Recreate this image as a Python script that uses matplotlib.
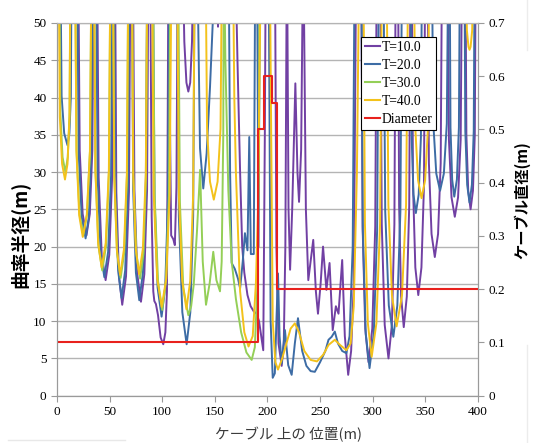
import matplotlib
matplotlib.use("Agg")
import matplotlib.pyplot as plt
from matplotlib.lines import Line2D

# ---------------- data ----------------
# y values of 62 denote points above the visible 50 m limit (curve clipped)
t10_x = [0, 11.5, 13, 14.5,
         20, 21.6, 24.4, 28, 31.2, 33.6, 35,
         38, 39.6, 42.5, 46.2, 49.7, 52.4, 54,
         55, 56.4, 58.9, 62, 65.6, 68.4, 70,
         72, 73.6, 76.3, 79.8, 83, 85.6, 87,
         88.5, 90, 91.5, 92.5, 94, 96, 98.5, 101, 103, 104.5, 106,
         107.5, 108.5, 110.5, 112, 113.5, 115,
         119, 121, 123, 124.8, 126.6, 128.3, 130,
         151.5, 153, 154.5,
         169, 171.5, 174, 176, 178, 181, 184, 187, 189.7, 192, 194, 196, 197.5, 198.5,
         207, 208.5, 210.5, 213.5, 215.5, 217, 218.5,
         220, 221.5, 223.5, 226.5, 228.5, 230, 232, 234,
         236.5, 238.8, 241, 243.5, 246, 248, 250.5, 252.8, 256, 259, 262, 265, 267.5,
         271, 273.5, 276.7, 279.5, 282, 284.5,
         289, 290.4, 292.9, 296, 299.6, 302.4, 304,
         307, 308.6, 311.4, 315, 318.2, 320.6, 322,
         324, 325.1, 327, 329.5, 332.4, 334.7, 336,
         337, 338.3, 340.5, 343.3, 346.3, 348.7, 350,
         352, 353.4, 355.9, 359, 362.1, 364.6, 366,
         371, 372.4, 374.9, 378, 381.1, 383.6, 385,
         388, 389, 390.75, 393, 395.25, 397, 398, 400]
t10_y = [62, 62, 46.5, 62,
         62, 32.9, 24.4, 21.5, 24.4, 32.9, 62,
         62, 29.3, 18.9, 15.5, 18.9, 29.3, 62,
         62, 27.3, 16, 12.2, 16, 27.3, 62,
         62, 27.6, 16.3, 12.6, 16.3, 27.6, 62,
         62, 24, 14, 12.7, 12.3, 10.8, 7.8, 6.9, 8.5, 14, 62,
         35, 21.5, 21, 20.2, 28, 62,
         62, 47.5, 42, 40.8, 42, 47.5, 62,
         62, 49.5, 62,
         62, 45, 30, 20, 16.5, 13.5, 12, 11.3, 11, 10, 8, 6.1, 35, 62,
         62, 20, 7, 4, 7, 20, 62,
         25, 16.9, 25, 41.9, 30, 26, 33, 62,
         25, 15.5, 18, 20.9, 14, 11, 15, 20, 14.2, 17.8, 8.8, 12, 11,
         18.2, 8, 2.8, 6, 15, 62,
         62, 22.7, 9, 4.5, 9, 22.7, 62,
         62, 23, 9.5, 5, 9.5, 23, 62,
         62, 25.5, 13.3, 9.2, 13.3, 25.5, 62,
         62, 28.1, 17.2, 13.5, 17.2, 28.1, 62,
         62, 31.2, 21.7, 18.6, 21.7, 31.2, 62,
         62, 34.4, 26.6, 24, 26.6, 34.4, 62,
         62, 35, 27.5, 25, 27.5, 35, 62, 62]

t20_x = [0, 3, 4.4, 6.85, 10, 11.8, 13.2, 14,
         19, 20.6, 23.5, 27.2, 30.3, 32.6, 34,
         37, 38.6, 41.4, 45, 48.6, 51.4, 53,
         54, 55.5, 58.1, 61.4, 64.8, 67.5, 69,
         71, 72.4, 75, 78.2, 81.7, 84.4, 86,
         91, 92.7, 95.6, 99.4, 102.8, 105.5, 107,
         114, 115.8, 119.1, 123.2, 126.7, 129.4, 131,
         133, 135.9, 139, 142.2, 145.4, 148, 150,
         163, 164.5, 166, 169, 172, 174, 176.5, 178.6, 181, 182.7, 184.2, 187, 188.5,
         190, 191.5, 193, 199.5,
         201, 203, 205, 207, 208.5, 210, 211.5, 213.5, 216.6, 219.7, 223, 226, 229,
         233, 237, 241, 245, 250, 255, 258, 261, 264, 267, 271, 275, 278, 281, 283,
         289, 290.6, 293.4, 297, 301, 304.2, 306,
         310, 311.9, 315.3, 319.6, 323.4, 326.3, 328,
         336, 337, 338.75, 341, 343.7, 345.8, 347,
         356, 357.6, 360.4, 364, 367.6, 370.4, 372,
         373, 373.9, 375.5, 377.5, 380, 381.9, 383,
         387, 388, 389.75, 392, 394.25, 396, 397, 400]
t20_y = [62, 62, 40.2, 35.2, 33.6, 35.2, 40.2, 62,
         62, 32.7, 24, 21.1, 24, 32.7, 62,
         62, 29.5, 19.3, 15.9, 19.3, 29.5, 62,
         62, 27.9, 16.8, 13.1, 16.8, 27.9, 62,
         62, 27.7, 16.5, 12.8, 16.5, 27.7, 62,
         62, 26.4, 14.5, 10.6, 14.5, 26.4, 62,
         62, 24.1, 11.2, 6.9, 11.2, 24.1, 62,
         62, 33.2, 27.8, 32.5, 41.4, 50, 62,
         62, 30, 17.8, 17, 15.7, 14.4, 18, 21.8, 19.5, 34.7, 19, 19, 62,
         62, 20, 62, 62,
         62, 10, 2.4, 3, 10, 16.4, 8, 4.3, 8.8, 4.1, 2.8, 7, 10.4,
         6, 4, 3.3, 3.2, 4.5, 6, 7.5, 7.9, 8.6, 7, 6, 5.7, 8, 20, 62,
         62, 22.2, 8.3, 3.7, 8.3, 22.2, 62,
         62, 24.7, 12.1, 7.9, 12.1, 24.7, 62,
         62, 34.7, 27, 24.5, 27, 34.7, 62,
         62, 36.5, 29.8, 27.5, 29.8, 36.5, 62,
         62, 36, 29, 26.7, 29, 36, 62,
         62, 35.5, 28.3, 25.9, 28.3, 35.5, 62, 62]

t30_x = [0, 2, 3.2, 5.3, 8, 10.25, 12, 13,
         17, 18.6, 21.4, 25, 28.6, 31.4, 33,
         35, 36.6, 39.4, 43, 46.6, 49.4, 51,
         53, 54.5, 57.1, 60.5, 63.9, 66.5, 68,
         71, 72.6, 75.4, 79, 82.2, 84.6, 86,
         91, 92.8, 96, 100, 103.6, 106.4, 108,
         115, 116.8, 120, 124.8, 127.5, 130, 133, 136, 138.5, 141.6, 145, 148.5, 151.5, 154.9,
         156.5, 158, 158.5, 160, 162.8, 166, 170, 175, 180, 185, 188, 190.5, 192, 192.5, 200]
t30_y = [62, 62, 38, 32, 30, 32, 38, 62,
         62, 32.9, 24.4, 21.5, 24.4, 32.9, 62,
         62, 30.1, 20.1, 16.8, 20.1, 30.1, 62,
         62, 29.5, 19.2, 15.8, 19.2, 29.5, 62,
         62, 29.4, 19.1, 15.7, 19.1, 29.4, 62,
         62, 26.9, 15.4, 11.5, 15.4, 26.9, 62,
         62, 26, 14.5, 10.8, 12, 15, 22, 30.3, 18, 12.2, 15, 19.3, 15.5, 14,
         18, 35, 62, 45, 27.6, 18, 13, 8.5, 5.8, 4.8, 6.5, 15, 35, 62, 62]

t40_x = [0, 1.5, 2.7, 4.85, 7.6, 10, 11.9, 13,
         17, 18.5, 21.1, 24.5, 28.3, 31.3, 33,
         35, 36.5, 39.1, 42.5, 46.3, 49.3, 51,
         53, 54.4, 56.85, 60, 63.6, 66.4, 68,
         71, 72.4, 74.85, 78, 81.6, 84.4, 86,
         90, 91.9, 95.2, 99.5, 103.8, 107.1, 109,
         114, 115.8, 119, 123, 126.6, 129.4, 131,
         141, 142.6, 145.4, 149, 152.6, 155.4, 157,
         167, 168.5, 170, 174, 178, 182, 186, 189, 191, 194,
         202, 205, 207.5, 210, 214, 218, 222, 226, 230, 235, 241, 247, 253, 258, 264,
         269, 275, 279, 282, 285, 287.5,
         291, 292.6, 295.4, 299, 303.5, 307, 309,
         313, 314.9, 318.3, 322.7, 327.8, 331.7, 334,
         339, 340.5, 343.1, 346.4, 349.8, 352.5, 354,
         388, 389.5, 391, 392, 393, 394.5, 396, 400]
t40_y = [62, 62, 37.4, 31.1, 29, 31.1, 37.4, 62,
         62, 32.8, 24.2, 21.3, 24.2, 32.8, 62,
         62, 30.3, 20.5, 17.2, 20.5, 30.3, 62,
         62, 29.7, 19.6, 16.2, 19.6, 29.7, 62,
         62, 29.8, 19.7, 16.3, 19.7, 29.8, 62,
         62, 27.1, 15.7, 11.9, 15.7, 27.1, 62,
         62, 27, 15.4, 11.6, 15.4, 27, 62,
         62, 35.8, 28.7, 26.3, 28.7, 35.8, 62,
         62, 40, 30, 14, 8.5, 6.6, 8, 15, 25, 62,
         62, 10, 4.5, 3.5, 5, 7, 9, 9.7, 8.5, 6, 4.8, 4.6, 5.5, 6.8, 7.5,
         6.8, 6.1, 7, 12, 30, 62,
         62, 23.1, 9.7, 5.2, 9.7, 23.1, 62,
         62, 25.6, 13.4, 9.3, 13.4, 25.6, 62,
         62, 35.9, 28.9, 26.5, 28.9, 35.9, 62,
         62, 49, 46.8, 46.4, 46.8, 49, 62, 62]

diam_x = [0, 191, 191, 197, 197, 204, 204, 209, 209, 400]
diam_y = [0.1, 0.1, 0.5, 0.5, 0.6, 0.6, 0.55, 0.55, 0.2, 0.2]

labels = ["T=10.0", "T=20.0", "T=30.0", "T=40.0", "Diameter"]
colors = ["#7140A3", "#3D6CA5", "#94CF57", "#F3C21B", "#E8211D"]
x_ticks = [0, 50, 100, 150, 200, 250, 300, 350, 400]
left_ticks = [0, 5, 10, 15, 20, 25, 30, 35, 40, 45, 50]
right_ticks = [0, 0.1, 0.2, 0.3, 0.4, 0.5, 0.6, 0.7]
right_ticklabels = ["0", "0.1", "0.2", "0.3", "0.4", "0.5", "0.6", "0.7"]

# ---------------- figure ----------------
serif = "Liberation Serif"
cjk = ["Noto Sans CJK JP", "DejaVu Sans"]
grid_c = "#b4b4b4"

fig = plt.figure(figsize=(5.36, 4.43), dpi=100)
ax = fig.add_axes([0.1063, 0.1068, 0.7854, 0.8413])

for xs, ys, c in zip([t10_x, t20_x, t30_x, t40_x], [t10_y, t20_y, t30_y, t40_y], colors[:4]):
    ax.plot(xs, ys, color=c, lw=1.4, solid_joinstyle="round")

ax.set_xlim(0, 400)
ax.set_ylim(0, 50)
ax.set_xticks(x_ticks)
ax.set_yticks(left_ticks)
ax.yaxis.grid(True, color=grid_c, lw=1.0)
ax.set_axisbelow(True)
for side in ["left", "bottom", "right"]:
    ax.spines[side].set_color("#9a9a9a")
ax.spines["top"].set_color(grid_c)
ax.tick_params(axis="both", direction="out", length=4, color="#9a9a9a", labelsize=9.5)
for lab in ax.get_xticklabels() + ax.get_yticklabels():
    lab.set_fontfamily(serif)

ax2 = ax.twinx()
ax2.plot(diam_x, diam_y, color=colors[4], lw=1.5)
ax2.set_ylim(0, 0.7)
ax2.set_yticks(right_ticks)
ax2.set_yticklabels(right_ticklabels)
ax2.tick_params(axis="y", direction="out", length=4, color="#9a9a9a", labelsize=9.5)
for lab in ax2.get_yticklabels():
    lab.set_fontfamily(serif)
for side in ["left", "bottom", "right"]:
    ax2.spines[side].set_color("#9a9a9a")
ax2.spines["top"].set_color(grid_c)

ax.text(-0.09, 0.432, "曲率半径(m)", transform=ax.transAxes, rotation=90,
        ha="center", va="center", fontsize=13.5, fontweight="bold", family=cjk)
ax.text(1.104, 0.525, "ケーブル直径(m)", transform=ax.transAxes, rotation=90,
        ha="center", va="center", fontsize=11, fontweight="bold", family=cjk)
ax.text(0.551, -0.105, "ケーブル 上の 位置(m)", transform=ax.transAxes,
        ha="center", va="center", fontsize=10.5, color="#3a3a3a", family=cjk)

handles = [Line2D([0], [0], color=c, lw=1.5) for c in colors]
leg = ax2.legend(handles, labels, loc="upper left", bbox_to_anchor=(0.722, 0.962),
                 frameon=True, fancybox=False, edgecolor="black", framealpha=1,
                 prop={"family": serif, "size": 9.8}, labelspacing=0.36,
                 handlelength=1.1, handletextpad=0.1, borderpad=0.3, borderaxespad=0)
leg.get_frame().set_linewidth(0.8)

# faint scan artefacts of the original figure
fig.add_artist(Line2D([8 / 536, 125 / 536], [3 / 443, 3 / 443], color="#e8e8e8", lw=1))
fig.add_artist(Line2D([527 / 536, 527 / 536], [0.0, 98 / 443], color="#ececec", lw=1))
fig.add_artist(Line2D([527 / 536, 527 / 536], [393 / 443, 1.0], color="#ececec", lw=1))

fig.savefig("out.png", dpi=100)
